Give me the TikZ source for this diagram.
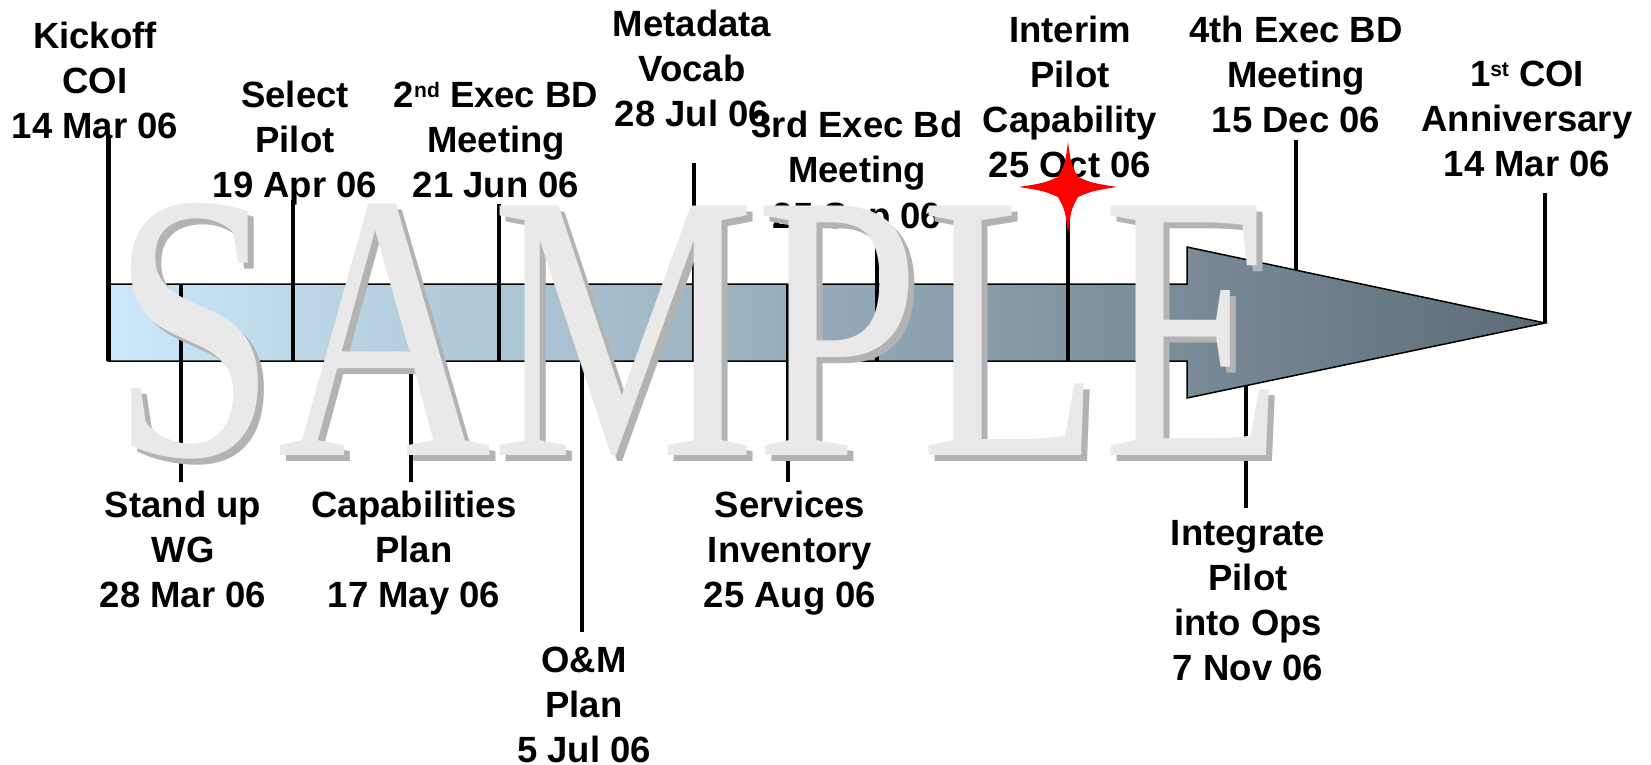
\documentclass[tikz,border=0pt]{standalone}
\usepackage{fontspec}
\usepackage{graphicx}
\setmainfont{Liberation Sans}
\newfontfamily\wmfont{Liberation Serif}
\definecolor{barleft}{HTML}{CCE8FA}
\definecolor{barright}{HTML}{5C6C76}
\definecolor{wmfront}{HTML}{E9E9E9}
\definecolor{wmshadow}{HTML}{B3B3B3}
\newcommand\labelfont{\fontsize{36.5}{45}\selectfont\bfseries}
\newcommand\supr[1]{\raisebox{10pt}{\fontsize{21}{21}\selectfont #1}}
\newcommand\lines[1]{\begin{tabular}[t]{@{}c@{}}#1\end{tabular}}
\tikzset{
  lbl/.style={anchor=base, inner sep=0pt, font=\labelfont},
  tickline/.style={line width=4.5pt, line cap=butt},
  wmark/.style={anchor=base, inner sep=0pt, font=\wmfont\fontsize{381}{381}\selectfont},
}
\begin{document}
\begin{tikzpicture}[x=1pt, y=-1pt]
\fill[white] (0,0) rectangle (1651,765);
\path[use as bounding box] (0,0) rectangle (1651,765);

% timeline bar with arrow head
\shadedraw[left color=barleft, right color=barright, draw=black, line width=1.5pt, line join=miter]
  (108,284) -- (1187,284) -- (1187,247) -- (1545,323) -- (1187,398) -- (1187,361) -- (108,361) -- cycle;

% labels
\node[lbl] (kick) at (95,49) {\lines{Kickoff\\COI\\14 Mar 06}};
\node[lbl] (sel) at (295,108) {\lines{Select\\Pilot\\19 Apr 06}};
\node[lbl] (ex2) at (496,108) {\lines{2\supr{nd} Exec BD\\Meeting\\21 Jun 06}};
\node[lbl] (meta) at (692,37) {\lines{Metadata\\Vocab\\28 Jul 06}};
\node[lbl] (ex3) at (857,138) {\lines{3rd Exec Bd\\Meeting\\25 Sep 06}};
\node[lbl] (intr) at (1070,43) {\lines{Interim\\Pilot\\Capability\\25 Oct 06}};
\node[lbl] (ex4) at (1296,43) {\lines{4th Exec BD\\Meeting\\15 Dec 06}};
\node[lbl] (anni) at (1527,87) {\lines{1\supr{st} COI\\Anniversary\\14 Mar 06}};
\node[lbl] (wg) at (183,517) {\lines{Stand up\\WG\\28 Mar 06}};
\node[lbl] (capp) at (414,517) {\lines{Capabilities\\Plan\\17 May 06}};
\node[lbl] (om) at (584,672) {\lines{O\&M\\Plan\\5 Jul 06}};
\node[lbl] (serv) at (790,517) {\lines{Services\\Inventory\\25 Aug 06}};
\node[lbl] (integ) at (1248,545) {\lines{Integrate\\Pilot\\into Ops\\7 Nov 06}};

% tick end points
\coordinate (kA) at (108.5,135);  \coordinate (kB) at (108.5,361);
\coordinate (sA) at (293,200);    \coordinate (sB) at (293,361);
\coordinate (e2A) at (499,204);   \coordinate (e2B) at (499,361);
\coordinate (mA) at (694,163);    \coordinate (mB) at (694,361);
\coordinate (e3A) at (877,225);   \coordinate (e3B) at (877,361);
\coordinate (iA) at (1068,187);   \coordinate (iB) at (1068,361);
\coordinate (e4A) at (1296,140);  \coordinate (e4B) at (1296,270);
\coordinate (aA) at (1545,193);   \coordinate (aB) at (1545,323);
\coordinate (wA) at (181,284);    \coordinate (wB) at (181,482);
\coordinate (cA) at (411,284);    \coordinate (cB) at (411,482);
\coordinate (oA) at (582,284);    \coordinate (oB) at (582,632);
\coordinate (vA) at (788,284);    \coordinate (vB) at (788,482);
\coordinate (gA) at (1246,386);   \coordinate (gB) at (1246,508);

\foreach \a/\b in {kA/kB, sA/sB, e2A/e2B, mA/mB, e3A/e3B, iA/iB, e4A/e4B, aA/aB, wA/wB, cA/cB, oA/oB, vA/vB, gA/gB}
  \draw[tickline] (\a) -- (\b);

% red star
\fill[red] (1068,142) .. controls (1071,164) .. (1078,177)
  .. controls (1092,183) .. (1117,187)
  .. controls (1092,191) .. (1078,197)
  .. controls (1071,210) .. (1068,233)
  .. controls (1065,210) .. (1058,197)
  .. controls (1044,191) .. (1019,187)
  .. controls (1044,183) .. (1058,177)
  .. controls (1065,164) .. cycle;

% watermark
\node[wmark, text=wmshadow] (wms) at (704,461) {\scalebox{0.78}[1]{SAMPLE}};
\node[wmark, text=wmfront] (wm) at (698,455) {\scalebox{0.78}[1]{SAMPLE}};
\end{tikzpicture}
\end{document}
